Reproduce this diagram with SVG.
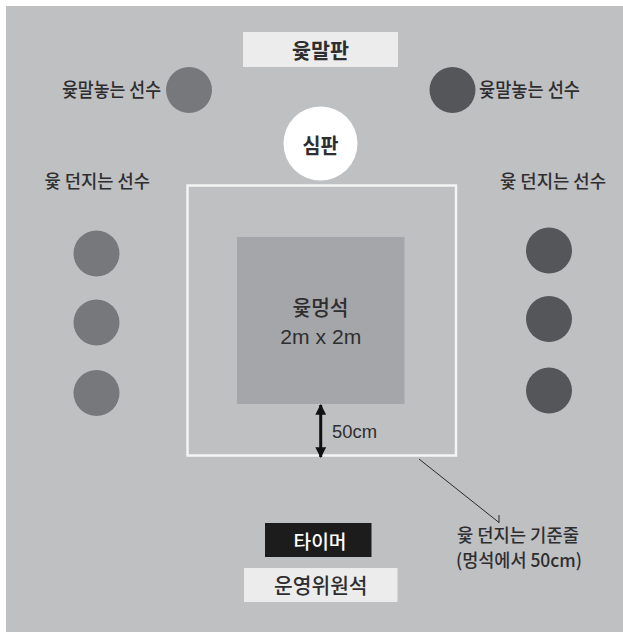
<svg xmlns="http://www.w3.org/2000/svg" width="623" height="632" viewBox="0 0 623 632">
  <style>
    text { font-family: "Noto Sans CJK KR", "Noto Sans", sans-serif; fill: #2e2e30; }
    .lbl { font-size: 18px; font-weight: 500; }
    .ttl { font-size: 20px; font-weight: 700; text-anchor: middle; }
    .box { fill: #ececec; }
    .pl { fill: #77787b; }
    .pr { fill: #555659; }
    .num { font-family: "Liberation Sans", Arial, sans-serif; }
  </style>
  <defs>
    <marker id="ah" viewBox="0 0 10 10" refX="9" refY="5" markerWidth="3.6" markerHeight="3.6" orient="auto-start-reverse" markerUnits="strokeWidth">
      <path d="M0,0 L10,5 L0,10 Z" fill="#111"/>
    </marker>
  </defs>
  <rect x="0" y="0" width="623" height="632" fill="#ffffff"/>
  <rect id="ground" x="6" y="6" width="617" height="626" fill="#bfc0c2"/>

  <g id="board">
    <rect class="box" x="243" y="32" width="155" height="35"/>
    <text class="ttl" x="320.5" y="57.5" textLength="57" lengthAdjust="spacingAndGlyphs" style="font-size:21px;font-weight:600">윷말판</text>
  </g>

  <g id="placer-left">
    <circle class="pl" cx="189" cy="90" r="23"/>
    <text class="lbl" x="161" y="97" text-anchor="end" textLength="99" lengthAdjust="spacingAndGlyphs" style="font-size:19.5px">윷말놓는 선수</text>
  </g>
  <g id="placer-right">
    <circle class="pr" cx="452.5" cy="90" r="23"/>
    <text class="lbl" x="479" y="97" textLength="101" lengthAdjust="spacingAndGlyphs" style="font-size:19.5px">윷말놓는 선수</text>
  </g>

  <g id="referee">
    <circle cx="320.5" cy="143.5" r="37" fill="#ffffff"/>
    <text class="ttl" x="320.5" y="152.5" textLength="36" lengthAdjust="spacingAndGlyphs" style="font-size:21px">심판</text>
  </g>

  <g id="throwers-left">
    <text class="lbl" x="44.5" y="188" textLength="105.5" lengthAdjust="spacingAndGlyphs">윷 던지는 선수</text>
    <circle class="pl" cx="96.5" cy="253.5" r="23"/>
    <circle class="pl" cx="96.5" cy="322.5" r="23"/>
    <circle class="pl" cx="96.5" cy="393" r="23"/>
  </g>
  <g id="throwers-right">
    <text class="lbl" x="500" y="188" textLength="106" lengthAdjust="spacingAndGlyphs">윷 던지는 선수</text>
    <circle class="pr" cx="549" cy="250.5" r="23"/>
    <circle class="pr" cx="549" cy="319" r="23"/>
    <circle class="pr" cx="549" cy="390.5" r="23"/>
  </g>

  <g id="throw-line">
    <rect x="187.5" y="185.5" width="268.5" height="270" fill="none" stroke="#f4f4f4" stroke-width="2.5"/>
  </g>

  <g id="mat">
    <rect x="237" y="237" width="167.5" height="167" fill="#a5a6a9"/>
    <text x="320.5" y="314.5" text-anchor="middle" style="font-size:21px;font-weight:500" textLength="56" lengthAdjust="spacingAndGlyphs">윷멍석</text>
    <text class="num" x="320.8" y="344" text-anchor="middle" style="font-size:21px" textLength="81" lengthAdjust="spacingAndGlyphs">2m x 2m</text>
  </g>

  <g id="distance-label">
    <text class="num" x="332" y="438" style="font-size:19px" textLength="45" lengthAdjust="spacingAndGlyphs">50cm</text>
  </g>

  <g id="line-label">
    <text class="lbl" x="457" y="542" textLength="122" lengthAdjust="spacingAndGlyphs">윷 던지는 기준줄</text>
    <text class="lbl" x="456" y="566.5" textLength="126" lengthAdjust="spacingAndGlyphs">(멍석에서 50cm)</text>
  </g>

  <g id="timer">
    <rect x="265" y="523" width="106.5" height="34" fill="#1c1c1c"/>
    <text x="320" y="548.5" text-anchor="middle" style="font-size:19px;font-weight:500;fill:#ffffff" textLength="53" lengthAdjust="spacingAndGlyphs">타이머</text>
  </g>

  <g id="officials">
    <rect class="box" x="244" y="568" width="153.5" height="34"/>
    <text x="320.8" y="593" text-anchor="middle" style="font-size:21px;font-weight:500" textLength="93.5" lengthAdjust="spacingAndGlyphs">운영위원석</text>
  </g>

  <g id="connectors">
    <line x1="320.7" y1="405" x2="320.7" y2="457" stroke="#111" stroke-width="3" marker-start="url(#ah)" marker-end="url(#ah)"/>
    <line x1="419" y1="459" x2="499" y2="522.5" stroke="#2a2a2a" stroke-width="1"/>
    <line x1="499" y1="515" x2="499" y2="523" stroke="#2a2a2a" stroke-width="1"/>
  </g>
</svg>
